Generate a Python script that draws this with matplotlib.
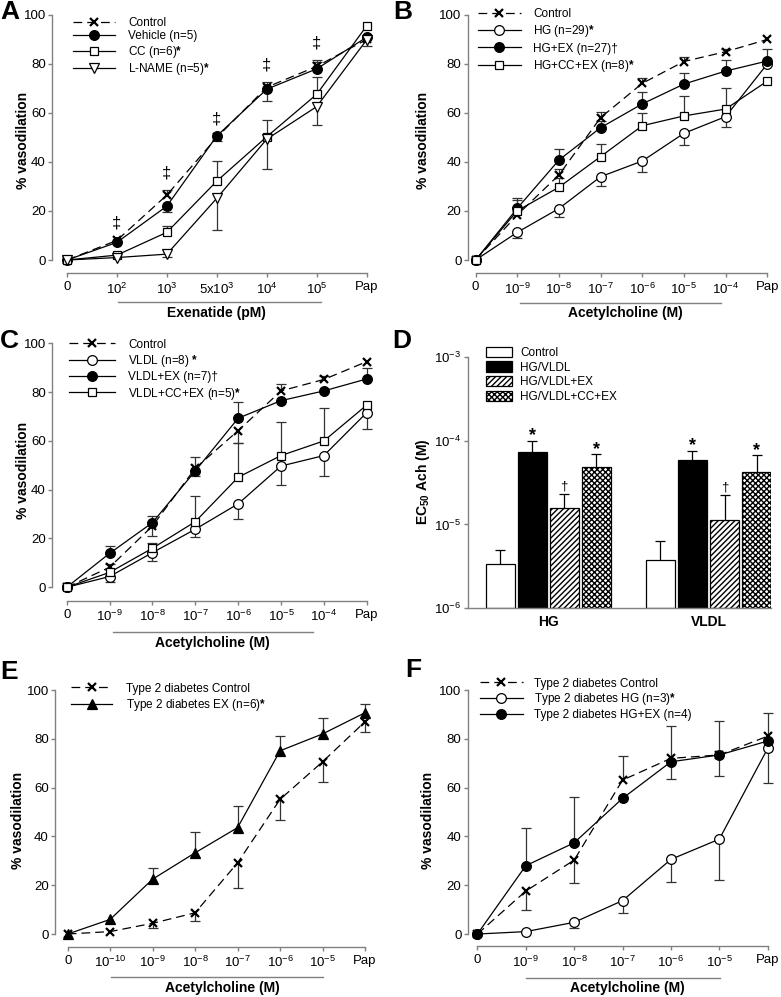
import matplotlib
matplotlib.use('Agg')
import matplotlib.pyplot as plt
import numpy as np
from matplotlib.patches import Patch

plt.rcParams['font.family'] = ['Liberation Sans', 'DejaVu Sans']
plt.rcParams['mathtext.fontset'] = 'custom'
plt.rcParams['mathtext.rm'] = 'Liberation Sans'
plt.rcParams['mathtext.it'] = 'Liberation Sans:italic'
plt.rcParams['mathtext.bf'] = 'Liberation Sans:bold'
plt.rcParams['hatch.linewidth'] = 1.0

# ---------------- data ----------------
A_xlabels = ['0', '10$^2$', '10$^3$', '5x10$^3$', '10$^4$', '10$^5$', 'Pap']
A_control = [0, 8, 26.5, 50, 70.5, 79, 90]
A_control_err = [0, 0, 2, 0, 2, 2.5, 0]
A_vehicle = [0, 7.2, 22, 50.6, 69.7, 78, 90.9]
A_vehicle_err = [0, 0, -2.5, -2, -4.7, 3, 0]
A_cc = [0, 2, 11.3, 32.2, 50.3, 67.6, 95.5]
A_cc_err = [0, 0, 2.7, 8.3, 7, 7, 0]
A_lname = [0, 1, 2.4, 25.2, 49.3, 62.6, 89.8]
A_lname_err = [0, 0, -1, -13, -12, -7.5, -2.5]
A_sig_idx = [1, 2, 3, 4, 5]
A_labels = ['Control', 'Vehicle (n=5)', r'CC (n=6)$\mathbf{*}$', r'L-NAME (n=5)$\mathbf{*}$']

B_xlabels = ['0', '10$^{-9}$', '10$^{-8}$', '10$^{-7}$', '10$^{-6}$', '10$^{-5}$', '10$^{-4}$', 'Pap']
B_control = [0, 18.4, 34.7, 58.1, 72.1, 81, 85, 90]
B_control_err = [0, 0, 2.5, 2.5, 2.3, 2, 1, 0]
B_hg = [0, 11.3, 21, 34, 40.4, 51.7, 58.5, 80]
B_hg_err = [0, -2.5, -3.6, -4, -4.5, -4.9, -4.4, 0]
B_hgex = [0, 21.1, 40.8, 54, 63.7, 71.8, 77.1, 81.2]
B_hgex_err = [0, 4.1, 4.4, 2.9, 5, 4.7, 4.5, 4.8]
B_hgccex = [0, 20.1, 29.7, 42.2, 54.8, 58.8, 61.6, 73]
B_hgccex_err = [0, 4.4, 3.9, 5, 5, 8.3, 8.5, 0]
B_labels = ['Control', r'HG (n=29)$\mathbf{*}$', 'HG+EX (n=27)\u2020', r'HG+CC+EX (n=8)$\mathbf{*}$']

C_xlabels = B_xlabels
C_control = [0, 8.2, 25.1, 48.8, 64.2, 80.5, 85.2, 92.5]
C_control_err = [0, 1.5, -4, -3, -5, 3, 1.5, 0]
C_vldl = [0, 4.4, 14.2, 23.8, 34.2, 49.7, 54, 71.6]
C_vldl_err = [0, -2.4, -3.4, -3, -6.2, -7.8, -8.4, -6.7]
C_vldlex = [0, 13.9, 26.5, 47.7, 69.3, 76.5, 80.5, 85.4]
C_vldlex_err = [0, 3, 2.9, 5.8, 6.7, 0, 0, 4.3]
C_vldlccex = [0, 6.1, 16, 26.9, 45.1, 54, 60, 74.7]
C_vldlccex_err = [0, 0, 2, 10.7, 14, 13.9, 13.4, 0]
C_labels = ['Control', r'VLDL (n=8) $\mathbf{*}$', 'VLDL+EX (n=7)\u2020', r'VLDL+CC+EX (n=5)$\mathbf{*}$']

D_groups = ['HG', 'VLDL']
D_series = ['Control', 'HG/VLDL', 'HG/VLDL+EX', 'HG/VLDL+CC+EX']
D_control = [3.4e-6, 3.73e-6]
D_control_err = [1.6e-6, 2.67e-6]
D_hgvldl = [7.3e-5, 5.86e-5]
D_hgvldl_err = [2.7e-5, 1.74e-5]
D_ex = [1.56e-5, 1.12e-5]
D_ex_err = [0.72e-5, 1.12e-5]
D_ccex = [4.9e-5, 4.2e-5]
D_ccex_err = [1.95e-5, 2.47e-5]
D_marks = ['', '*', '\u2020', '*']

E_xlabels = ['0', '10$^{-10}$', '10$^{-9}$', '10$^{-8}$', '10$^{-7}$', '10$^{-6}$', '10$^{-5}$', 'Pap']
E_control = [0, 1, 4.4, 8.7, 29.2, 55.2, 70.6, 87]
E_control_err = [0, 0, -2.1, -3.4, -10.5, -8.5, -8.2, -4.1]
E_ex = [0, 6, 22.5, 33.3, 43.6, 75.1, 82, 90.7]
E_ex_err = [0, 0, 4.4, 8.7, 8.9, 6, 6.4, 3.4]
E_labels = ['Type 2 diabetes Control', r'Type 2 diabetes EX (n=6)$\mathbf{*}$']

F_xlabels = ['0', '10$^{-9}$', '10$^{-8}$', '10$^{-7}$', '10$^{-6}$', '10$^{-5}$', 'Pap']
F_control = [0, 17.6, 30.3, 63.1, 72, 73.4, 81.1]
F_control_err = [0, -7.8, -9.3, 10, 13.2, 13.8, 9.3]
F_hg = [0, 1, 4.8, 13.7, 30.6, 38.9, 76.1]
F_hg_err = [0, 0, -2.2, -5.2, -9.3, -16.8, -14.1]
F_hgex = [0, 28, 37.4, 55.6, 70.6, 73.4, 79.1]
F_hgex_err = [0, 15.3, 18.6, 0, -7, -8.7, 0]
F_labels = ['Type 2 diabetes Control', r'Type 2 diabetes HG (n=3)$\mathbf{*}$', 'Type 2 diabetes HG+EX (n=4)']

# ---------------- layout helpers ----------------
W, H = 781, 997
fig = plt.figure(figsize=(W / 100, H / 100), dpi=100)
SPINE = '#808080'
TICKFS = 9.5
LEGFS = 8.5
LABFS = 10


def rect_px(l, t, r, b):
    return [l / W, 1 - b / H, (r - l) / W, (b - t) / H]


def fx(x):
    return x / W


def fy(y):
    return 1 - y / H


def line_axes(box, xlabels, xmin, xmax, ymin):
    ax = fig.add_axes(rect_px(*box))
    n = len(xlabels)
    ax.set_xlim(xmin, xmax)
    ax.set_ylim(ymin, 101)
    for s in ['top', 'right']:
        ax.spines[s].set_visible(False)
    for s in ['left', 'bottom']:
        ax.spines[s].set_color(SPINE)
        ax.spines[s].set_linewidth(1.0)
    ax.spines['left'].set_bounds(0, 100)
    ax.spines['bottom'].set_bounds(0, n - 1)
    ax.set_xticks(range(n))
    ax.set_xticklabels(xlabels)
    ax.set_yticks([0, 20, 40, 60, 80, 100])
    ax.tick_params(direction='out', length=3, width=1.0, color=SPINE, labelsize=TICKFS)
    ax.tick_params(axis='y', pad=1.5)
    ax.tick_params(axis='x', pad=3)
    return ax, box


def draw_errs(ax, y, err):
    x = np.arange(len(y))
    y = np.asarray(y, float)
    e = np.asarray(err, float)
    m = e != 0
    ax.vlines(x[m], y[m], y[m] + e[m], colors='#333333', lw=0.9, zorder=2)
    ax.plot(x[m], y[m] + e[m], ls='none', marker='_', ms=6.5, mew=0.9, color='#333333', zorder=2, clip_on=False)


def draw_series(ax, y, err, marker, filled, dashed=False, ms=7):
    draw_errs(ax, y, err)
    ls = (0, (7, 4)) if dashed else '-'
    mfc = 'black' if filled else 'white'
    mew = 1.6 if marker == 'x' else 0.9
    line, = ax.plot(np.arange(len(y)), y, color='black', lw=0.9, ls=ls, marker=marker,
                    ms=ms, mfc=mfc, mec='black', mew=mew, zorder=3, clip_on=False)
    return line


def legend(ax, handles, labels, anchor, spacing, hl=3.6, htp=1.1, **kw):
    ax.legend(handles, labels, loc='upper left', bbox_to_anchor=(fx(anchor[0]), fy(anchor[1])),
              bbox_transform=fig.transFigure, frameon=False, fontsize=LEGFS, borderpad=0,
              borderaxespad=0, handlelength=hl, handletextpad=htp, labelspacing=spacing,
              numpoints=1, **kw)


def decorate(ax, box, x0, x1, yline_px, label, xc, ylabel_px):
    l, t, r, b = box
    yf = (b - yline_px) / (b - t)
    ax.plot([x0, x1], [yf, yf], transform=ax.get_xaxis_transform(), color='#808080', lw=1.0, clip_on=False)
    yl = (b - ylabel_px) / (b - t)
    ax.text(xc, yl, label, transform=ax.get_xaxis_transform(), ha='center', va='center',
            fontsize=LABFS, fontweight='bold')


def ylab(xp, yp, text):
    fig.text(fx(xp), fy(yp), text, rotation=90, ha='center', va='center', fontsize=LABFS, fontweight='bold')


def letter(xp, yp, s):
    fig.text(fx(xp), fy(yp), s, ha='left', va='center', fontsize=19, fontweight='bold')


# ---------------- Panel A ----------------
axA, boxA = line_axes((52, 12.5, 376.6, 273), A_xlabels, -0.3, 6.2, -5.3)
hA = [draw_series(axA, A_control, A_control_err, 'x', True, dashed=True, ms=5.5),
      draw_series(axA, A_vehicle, A_vehicle_err, 'o', True),
      draw_series(axA, A_cc, A_cc_err, 's', False, ms=6.3),
      draw_series(axA, A_lname, A_lname_err, 'v', False, ms=7.5)]
topA = np.maximum(np.add(A_control, np.clip(A_control_err, 0, None)),
                  np.add(A_vehicle, np.clip(A_vehicle_err, 0, None)))
for i in A_sig_idx:
    axA.text(i, topA[i] + 7, '\u2021', ha='center', va='center', fontsize=12, zorder=4)
legend(axA, hA, A_labels, (72.7, 17), 0.12)
decorate(axA, boxA, 1.02, 5.08, 302, 'Exenatide (pM)', 3.0, 313)
ylab(23, 140, '% vasodilation')
letter(0, 12, 'A')

# ---------------- Panel B ----------------
axB, boxB = line_axes((467.7, 12.5, 775.6, 273), B_xlabels, -0.19, 7.2, -5.3)
hB = [draw_series(axB, B_control, B_control_err, 'x', True, dashed=True, ms=5.5),
      draw_series(axB, B_hg, B_hg_err, 'o', False),
      draw_series(axB, B_hgex, B_hgex_err, 'o', True),
      draw_series(axB, B_hgccex, B_hgccex_err, 's', False, ms=6.3)]
legend(axB, hB, B_labels, (478, 8), 0.28, hl=3.6, htp=1.1)
decorate(axB, boxB, 1.06, 5.89, 302.7, 'Acetylcholine (M)', 3.6, 312.7)
ylab(423.3, 140, '% vasodilation')
letter(393, 12, 'B')

# ---------------- Panel C ----------------
axC, boxC = line_axes((52, 340.9, 375.3, 600.7), C_xlabels, -0.343, 7.2, -5.5)
hC = [draw_series(axC, C_control, C_control_err, 'x', True, dashed=True, ms=5.5),
      draw_series(axC, C_vldl, C_vldl_err, 'o', False),
      draw_series(axC, C_vldlex, C_vldlex_err, 'o', True),
      draw_series(axC, C_vldlccex, C_vldlccex_err, 's', False, ms=6.3)]
legend(axC, hC, C_labels, (69.3, 338.5), 0.2, hl=3.9, htp=1.1)
decorate(axC, boxC, 1.08, 5.75, 631.7, 'Acetylcholine (M)', 3.4, 643)
ylab(23, 470, '% vasodilation')
letter(0, 341, 'C')

# ---------------- Panel D ----------------
boxD = (467.7, 356.7, 771, 608.3)
axD = fig.add_axes(rect_px(*boxD))
axD.set_yscale('log')
axD.set_ylim(1e-6, 1e-3)
axD.set_xlim(-0.5025, 1.39)
for s in ['top', 'right']:
    axD.spines[s].set_visible(False)
for s in ['left', 'bottom']:
    axD.spines[s].set_color(SPINE)
    axD.spines[s].set_linewidth(1.0)
axD.set_yticks([1e-6, 1e-5, 1e-4, 1e-3])
axD.set_yticklabels(['10$^{-6}$', '10$^{-5}$', '10$^{-4}$', '10$^{-3}$'])
axD.minorticks_off()
axD.tick_params(axis='y', direction='out', length=3, width=1.0, color=SPINE, labelsize=TICKFS, pad=1.5)
xg = np.arange(len(D_groups))
axD.set_xticks(xg)
axD.set_xticklabels(D_groups, fontweight='bold', fontsize=LABFS)
axD.tick_params(axis='x', length=0, pad=5)
offs = [-0.3, -0.1, 0.1, 0.3]
bw = 0.181
D_vals = [D_control, D_hgvldl, D_ex, D_ccex]
D_errs = [D_control_err, D_hgvldl_err, D_ex_err, D_ccex_err]
D_fc = ['white', 'black', 'white', 'white']
D_hatch = ['', '', '//////', 'xxxxxx']
hD = []
for k in range(4):
    v = np.array(D_vals[k])
    e = np.array(D_errs[k])
    xs = xg + offs[k]
    axD.vlines(xs, v, v + e, colors='black', lw=0.9, zorder=1)
    axD.plot(xs, v + e, ls='none', marker='_', ms=6.5, mew=0.9, color='black', zorder=1)
    axD.bar(xs, v - 1e-6, bottom=1e-6, width=bw, color=D_fc[k], edgecolor='black',
            hatch=D_hatch[k], linewidth=0.9, zorder=2)
    hD.append(Patch(facecolor=D_fc[k], edgecolor='black', hatch=D_hatch[k], linewidth=0.9))
    if D_marks[k]:
        for xx, top in zip(xs, v + e):
            if D_marks[k] == '*':
                axD.annotate('*', (xx, top), xytext=(0, 0), textcoords='offset points',
                             ha='center', va='baseline', fontsize=13, fontweight='bold')
            else:
                axD.annotate(D_marks[k], (xx, top), xytext=(0, 3.5), textcoords='offset points',
                             ha='center', va='baseline', fontsize=9.5)
legend(axD, hD, D_series, (485.7, 346.5), 0.2, hl=2.2, htp=0.7, handleheight=1.0)
ylab(423.3, 481.7, r'EC$_{\mathbf{50}}$ Ach (M)')
letter(392, 341, 'D')

# ---------------- Panel E ----------------
axE, boxE = line_axes((55, 687.6, 373.5, 946.7), E_xlabels, -0.3, 7.2, -5.2)
hE = [draw_series(axE, E_control, E_control_err, 'x', True, dashed=True, ms=5.5),
      draw_series(axE, E_ex, E_ex_err, '^', True, ms=7.5)]
legend(axE, hE, E_labels, (71, 682.5), 0.2, hl=3.5, htp=1.2)
decorate(axE, boxE, 1.02, 6.0, 976.7, 'Acetylcholine (M)', 3.63, 988.3)
ylab(18.3, 820, '% vasodilation')
letter(0, 672, 'E')

# ---------------- Panel F ----------------
axF, boxF = line_axes((467.7, 687.6, 777.4, 946), F_xlabels, -0.2, 6.2, -4.9)
hF = [draw_series(axF, F_control, F_control_err, 'x', True, dashed=True, ms=5.5),
      draw_series(axF, F_hg, F_hg_err, 'o', False),
      draw_series(axF, F_hgex, F_hgex_err, 'o', True)]
legend(axF, hF, F_labels, (480, 677.5), 0.14, hl=3.6, htp=1.0)
decorate(axF, boxF, 1.0, 5.01, 978.3, 'Acetylcholine (M)', 3.09, 988.3)
ylab(428.3, 820, '% vasodilation')
letter(405, 670, 'F')

fig.savefig('out.png', dpi=100)
